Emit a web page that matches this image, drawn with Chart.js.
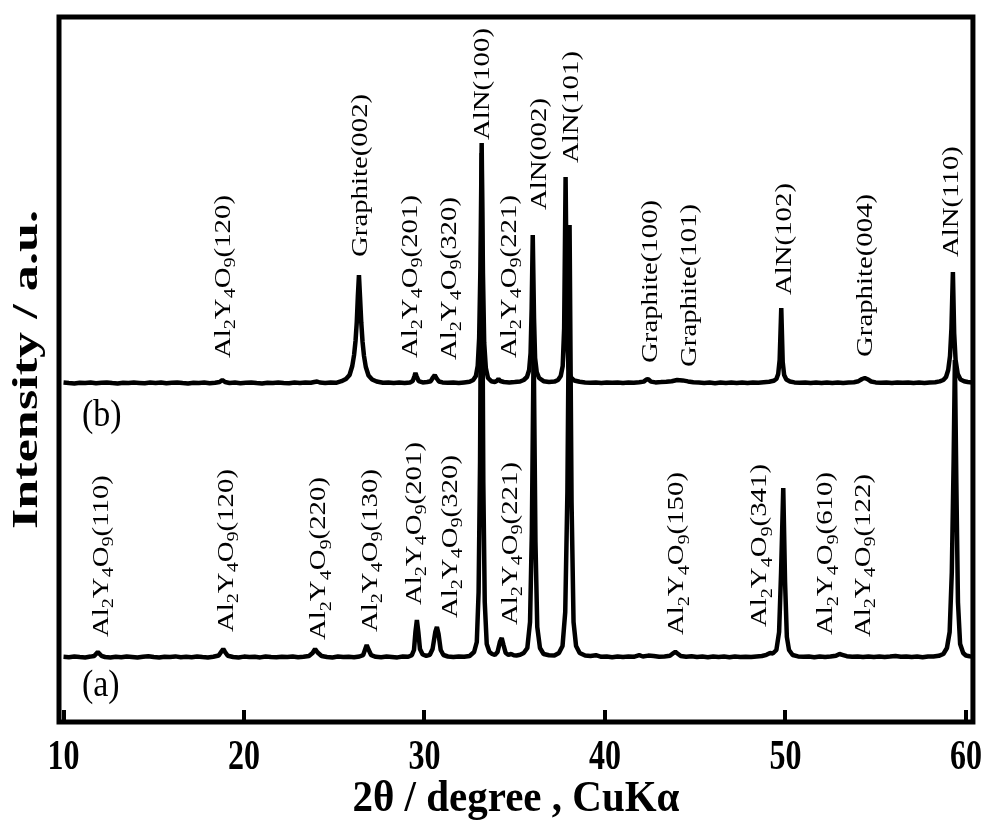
<!DOCTYPE html>
<html>
<head>
<meta charset="utf-8">
<title>XRD patterns</title>
<script src="https://cdn.jsdelivr.net/npm/chart.js@4.4.1/dist/chart.umd.min.js"></script>
<style>
  html, body { margin: 0; padding: 0; background: #ffffff; }
  #wrap { width: 991px; height: 820px; }
</style>
</head>
<body>
<div id="wrap"><canvas id="xrd" width="991" height="820"></canvas></div>
<script>
// ---- measured patterns: [2θ (deg), intensity (counts)] ----
const patternA = [
  [10.0,652],[10.3,648],[10.6,655],[10.9,650],[11.2,646],[11.5,654],[11.7,660],[11.9,700],[12.1,662],[12.3,650],
  [12.6,645],[12.9,653],[13.2,648],[13.5,656],[13.8,650],[14.1,644],[14.4,652],[14.7,657],[15.0,649],[15.3,645],
  [15.6,653],[15.9,650],[16.2,656],[16.5,647],[16.8,652],[17.1,648],[17.4,655],[17.7,650],[18.0,646],[18.3,653],
  [18.6,665],[18.75,705],[18.85,730],[18.95,700],[19.1,662],[19.4,650],[19.7,645],[20.0,654],[20.3,649],[20.6,652],
  [20.9,646],[21.2,655],[21.5,650],[21.8,647],[22.1,653],[22.4,649],[22.7,656],[23.0,648],[23.3,652],[23.6,660],
  [23.8,690],[23.94,730],[24.08,695],[24.3,660],[24.6,650],[24.9,646],[25.2,654],[25.5,649],[25.8,652],[26.1,647],
  [26.4,655],[26.6,668],[26.72,730],[26.8,770],[26.9,725],[27.05,668],[27.3,652],[27.6,648],[27.9,654],[28.2,650],
  [28.5,646],[28.8,655],[29.1,652],[29.3,668],[29.42,720],[29.5,900],[29.58,1020],[29.66,900],[29.75,730],[29.9,675],
  [30.1,662],[30.3,672],[30.45,730],[30.6,900],[30.69,950],[30.78,880],[30.9,720],[31.05,670],[31.3,655],[31.6,650],
  [31.9,656],[32.2,652],[32.5,660],[32.75,700],[32.9,800],[33.0,1300],[33.08,2600],[33.17,5690],[33.26,2400],[33.34,1200],
  [33.45,780],[33.6,700],[33.75,680],[33.9,670],[34.05,700],[34.18,800],[34.28,840],[34.38,770],[34.5,690],[34.65,672],
  [34.8,680],[34.95,668],[35.1,665],[35.3,672],[35.5,690],[35.7,740],[35.85,1000],[35.95,1900],[36.05,3770],[36.15,1800],
  [36.25,950],[36.4,740],[36.6,680],[36.9,668],[37.2,665],[37.45,690],[37.65,760],[37.8,1100],[37.92,2300],[38.04,4970],
  [38.15,2200],[38.26,1000],[38.4,760],[38.6,690],[38.9,665],[39.2,660],[39.5,668],[39.8,652],[40.1,655],[40.4,648],
  [40.7,656],[41.0,650],[41.3,654],[41.6,652],[41.9,668],[42.1,655],[42.4,664],[42.7,660],[43.0,652],[43.3,656],
  [43.6,662],[43.8,690],[43.9,702],[44.0,688],[44.2,660],[44.5,652],[44.8,657],[45.1,650],[45.4,654],[45.7,648],
  [46.0,656],[46.3,651],[46.6,655],[46.9,648],[47.2,656],[47.5,650],[47.8,653],[48.1,649],[48.4,655],[48.7,660],
  [48.95,672],[49.15,690],[49.3,685],[49.5,720],[49.65,900],[49.76,1500],[49.88,2340],[49.98,1400],[50.08,850],[50.2,720],
  [50.4,670],[50.7,656],[51.0,652],[51.3,655],[51.6,648],[51.9,656],[52.2,650],[52.5,654],[52.8,662],[53.0,680],
  [53.15,672],[53.4,658],[53.7,652],[54.0,655],[54.3,649],[54.6,656],[54.9,651],[55.2,655],[55.5,650],[55.8,654],
  [56.1,660],[56.4,652],[56.7,656],[57.0,650],[57.3,654],[57.6,648],[57.9,656],[58.2,655],[58.5,662],[58.75,680],
  [58.95,740],[59.1,900],[59.22,1500],[59.32,2600],[59.39,3620],[59.47,2400],[59.56,1200],[59.68,780],[59.85,690],[60.0,665],
  [60.2,658],[60.35,655]
];

const patternB = [
  [10.0,655],[10.3,650],[10.6,646],[10.9,653],[11.2,649],[11.5,655],[11.8,648],[12.1,652],[12.4,656],[12.7,650],
  [13.0,646],[13.3,653],[13.6,649],[13.9,655],[14.2,651],[14.5,647],[14.8,654],[15.1,650],[15.4,656],[15.7,648],
  [16.0,652],[16.3,655],[16.6,649],[16.9,646],[17.2,653],[17.5,650],[17.8,655],[18.1,648],[18.4,652],[18.65,660],
  [18.8,680],[18.95,660],[19.2,650],[19.5,654],[19.8,647],[20.1,652],[20.4,656],[20.7,650],[21.0,646],[21.3,653],
  [21.6,649],[21.9,655],[22.2,651],[22.5,648],[22.8,654],[23.1,650],[23.4,656],[23.7,652],[23.9,660],[24.05,665],
  [24.2,655],[24.5,650],[24.8,656],[25.1,652],[25.4,668],[25.65,690],[25.85,730],[26.0,820],[26.1,930],[26.18,1070],
  [26.25,1260],[26.31,1520],[26.37,1730],[26.43,1510],[26.5,1250],[26.57,1060],[26.65,920],[26.75,810],[26.9,725],[27.1,685],
  [27.35,665],[27.7,652],[28.0,655],[28.3,649],[28.6,654],[28.9,650],[29.2,656],[29.35,670],[29.45,720],[29.5,750],
  [29.56,720],[29.68,668],[29.9,656],[30.15,660],[30.35,668],[30.47,705],[30.57,730],[30.66,700],[30.8,665],[31.0,656],
  [31.3,652],[31.6,655],[31.9,650],[32.2,656],[32.5,662],[32.7,680],[32.85,720],[32.95,820],[33.03,1100],[33.1,1800],
  [33.17,3050],[33.24,1750],[33.31,1050],[33.4,800],[33.52,700],[33.7,668],[33.9,660],[34.02,672],[34.1,690],[34.2,670],
  [34.4,660],[34.7,656],[35.0,660],[35.3,665],[35.5,680],[35.68,710],[35.8,780],[35.88,950],[35.94,1400],[36.0,2130],
  [36.07,1300],[36.13,900],[36.22,760],[36.35,700],[36.6,668],[36.9,660],[37.2,664],[37.4,680],[37.55,720],[37.66,820],
  [37.74,1200],[37.82,2710],[37.9,1150],[37.98,800],[38.1,710],[38.3,675],[38.6,662],[38.9,656],[39.2,652],[39.5,655],
  [39.8,650],[40.1,656],[40.4,652],[40.7,655],[41.0,649],[41.3,654],[41.6,652],[41.9,657],[42.15,664],[42.3,685],
  [42.4,688],[42.55,664],[42.8,656],[43.1,659],[43.4,663],[43.7,668],[44.0,680],[44.3,676],[44.6,666],[44.9,658],
  [45.2,655],[45.5,650],[45.8,654],[46.1,648],[46.4,655],[46.7,650],[47.0,654],[47.3,649],[47.6,655],[47.9,650],
  [48.2,656],[48.5,652],[48.8,657],[49.1,662],[49.35,672],[49.5,690],[49.6,740],[49.68,880],[49.77,1400],[49.85,860],
  [49.93,730],[50.05,685],[50.25,665],[50.5,656],[50.8,652],[51.1,655],[51.4,649],[51.7,654],[52.0,650],[52.3,656],
  [52.6,651],[52.9,655],[53.2,650],[53.5,654],[53.8,658],[54.05,668],[54.25,690],[54.4,700],[54.55,688],[54.75,665],
  [55.0,656],[55.3,652],[55.6,655],[55.9,650],[56.2,656],[56.5,652],[56.8,655],[57.1,650],[57.4,654],[57.7,649],
  [58.0,655],[58.3,658],[58.55,666],[58.75,680],[58.9,710],[59.02,780],[59.12,920],[59.2,1200],[59.28,1760],[59.35,1150],
  [59.43,880],[59.55,740],[59.7,685],[59.9,668],[60.1,660],[60.35,656]
];

// pattern (b) is stacked above (a) by this many counts
const offsetB = 2740;

// x-axis ticks
const xTicks = [10, 20, 30, 40, 50, 60];

// peak assignments: [text, 2θ where the label sits, intensity where the label starts]
// "_n" marks a subscript digit
const peaksA = [
  ['Al_2Y_4O_9(110)', 12.02, 850],
  ['Al_2Y_4O_9(120)', 18.93, 900],
  ['Al_2Y_4O_9(220)', 24.07, 820],
  ['Al_2Y_4O_9(130)', 26.94, 900],
  ['Al_2Y_4O_9(201)', 29.37, 1170],
  ['Al_2Y_4O_9(320)', 31.36, 1040],
  ['Al_2Y_4O_9(221)', 34.68, 970],
  ['Al_2Y_4O_9(150)', 43.91, 870],
  ['Al_2Y_4O_9(341)', 48.50, 950],
  ['Al_2Y_4O_9(610)', 52.16, 870],
  ['Al_2Y_4O_9(122)', 54.26, 850]
];
const peaksB = [
  ['Al_2Y_4O_9(120)', 18.76, 3640],
  ['Graphite(002)', 26.39, 4650],
  ['Al_2Y_4O_9(201)', 29.15, 3640],
  ['Al_2Y_4O_9(320)', 31.31, 3620],
  ['AlN(100)', 33.13, 5820],
  ['Al_2Y_4O_9(221)', 34.63, 3640],
  ['AlN(002)', 36.28, 5120],
  ['AlN(101)', 38.05, 5590],
  ['Graphite(100)', 42.42, 3590],
  ['Graphite(101)', 44.63, 3550],
  ['AlN(102)', 49.88, 4270],
  ['Graphite(004)', 54.36, 3650],
  ['AlN(110)', 59.12, 4650]
];

// sample tags: [text, 2θ of left edge, intensity of baseline]
const sampleTags = [
  ['(a)', 11.02, 260],
  ['(b)', 11.02, 2960]
];

// ---- styling ----
const SERIF = '"Liberation Serif", "Times New Roman", serif';
const TICK_SIZE = 32, TICK_STRETCH = 1.3;
const XTITLE_SIZE = 41, XTITLE_STRETCH = 1.08, XTITLE_PAD = -4;
const YTITLE_SIZE = 36, YTITLE_STRETCH = 1.45;
const PEAK_SIZE = 24, PEAK_STRETCH = 1.2;
const TAG_SIZE = 34, TAG_STRETCH = 1.1;

const toXY = (arr, off) => arr.map(([x, y]) => ({ x: x, y: y + off }));

// rotated peak label with subscripts, reading bottom-to-top
function drawPeakLabel(ctx, text, px, py) {
  const parts = [];
  const re = /_(\d)|([^_]+)/g;
  let m;
  while ((m = re.exec(text)) !== null) {
    if (m[1] !== undefined) parts.push([m[1], true]);
    else parts.push([m[2], false]);
  }
  ctx.save();
  ctx.translate(px, py);
  ctx.scale(1, PEAK_STRETCH);
  ctx.rotate(-Math.PI / 2);
  ctx.fillStyle = '#000';
  ctx.textAlign = 'left';
  ctx.textBaseline = 'alphabetic';
  const base = PEAK_SIZE * 0.33;
  let cx = 0;
  for (const [t, sub] of parts) {
    const fs = sub ? PEAK_SIZE * 0.7 : PEAK_SIZE;
    ctx.font = `${fs}px ${SERIF}`;
    ctx.fillText(t, cx, sub ? base + PEAK_SIZE * 0.22 : base);
    cx += ctx.measureText(t).width;
  }
  ctx.restore();
}

// stretch library-drawn axis text vertically around a pivot line
function wrapStretch(scale, method, pivotFn, k) {
  const orig = scale[method].bind(scale);
  scale[method] = function (arg) {
    const ctx = this.ctx, y0 = pivotFn(this);
    ctx.save();
    ctx.translate(0, y0);
    ctx.scale(1, k);
    ctx.translate(0, -y0);
    orig(arg);
    ctx.restore();
  };
}

const axisText = {
  id: 'axisText',
  beforeDraw(chart) {
    const sx = chart.scales.x, sy = chart.scales.y;
    if (!sx.$stretched) {
      wrapStretch(sx, 'drawLabels', s => s.top, TICK_STRETCH);
      wrapStretch(sx, 'drawTitle', s => s.bottom - XTITLE_SIZE * 0.6 - XTITLE_PAD, XTITLE_STRETCH);
      sx.$stretched = true;
    }
    if (!sy.$stretched) {
      wrapStretch(sy, 'drawTitle', s => (s.top + s.bottom) / 2, YTITLE_STRETCH);
      sy.$stretched = true;
    }
  }
};

const frameAndLabels = {
  id: 'frameAndLabels',
  afterDatasetsDraw(chart) {
    const { ctx, chartArea: a, scales: { x, y } } = chart;
    ctx.save();
    // plot frame
    ctx.strokeStyle = '#000';
    ctx.lineWidth = 5;
    ctx.strokeRect(a.left, a.top, a.right - a.left, a.bottom - a.top);
    // inward tick marks on the 2θ axis
    ctx.lineWidth = 4;
    ctx.lineCap = 'butt';
    for (const t of x.ticks) {
      const px = Math.round(x.getPixelForValue(t.value));
      ctx.beginPath();
      ctx.moveTo(px, a.bottom);
      ctx.lineTo(px, a.bottom - 12);
      ctx.stroke();
    }
    // peak assignments
    for (const [t, th, v] of peaksA) drawPeakLabel(ctx, t, x.getPixelForValue(th), y.getPixelForValue(v));
    for (const [t, th, v] of peaksB) drawPeakLabel(ctx, t, x.getPixelForValue(th), y.getPixelForValue(v));
    // sample tags
    ctx.fillStyle = '#000';
    ctx.textAlign = 'left';
    ctx.textBaseline = 'alphabetic';
    ctx.font = `${TAG_SIZE}px ${SERIF}`;
    for (const [t, th, v] of sampleTags) {
      const px = x.getPixelForValue(th), py = y.getPixelForValue(v);
      ctx.save();
      ctx.translate(px, py);
      ctx.scale(1, TAG_STRETCH);
      ctx.fillText(t, 0, 0);
      ctx.restore();
    }
    ctx.restore();
  }
};

const lineStyle = {
  borderColor: '#000',
  borderWidth: 4.5,
  pointRadius: 0,
  tension: 0,
  borderJoinStyle: 'bevel',
  fill: false
};

new Chart(document.getElementById('xrd'), {
  type: 'line',
  data: {
    datasets: [
      Object.assign({ label: '(a)', data: toXY(patternA, 0) }, lineStyle),
      Object.assign({ label: '(b)', data: toXY(patternB, offsetB) }, lineStyle)
    ]
  },
  options: {
    responsive: false,
    animation: false,
    devicePixelRatio: 1,
    parsing: false,
    layout: { padding: { top: 17, right: 14, left: 0, bottom: 0 } },
    plugins: { legend: { display: false }, tooltip: { enabled: false } },
    scales: {
      x: {
        type: 'linear',
        min: 9.75,
        max: 60.39,
        afterBuildTicks: s => { s.ticks = xTicks.map(v => ({ value: v })); },
        afterFit: s => { s.height = 98; },
        grid: { display: false, drawTicks: false },
        border: { display: false },
        ticks: {
          color: '#000',
          padding: 9,
          maxRotation: 0,
          autoSkip: false,
          font: { family: SERIF, size: TICK_SIZE, weight: 'bold' }
        },
        title: {
          display: true,
          text: '2θ / degree , CuKα',
          color: '#000',
          padding: { top: 0, bottom: XTITLE_PAD },
          font: { family: SERIF, size: XTITLE_SIZE, weight: 'bold' }
        }
      },
      y: {
        type: 'linear',
        min: 0,
        max: 7050,
        afterFit: s => { s.width = 59; },
        grid: { display: false, drawTicks: false },
        border: { display: false },
        ticks: { display: false },
        title: {
          display: true,
          text: 'Intensity / a.u.',
          color: '#000',
          padding: { top: 6, bottom: 0 },
          font: { family: SERIF, size: YTITLE_SIZE, weight: 'bold' }
        }
      }
    }
  },
  plugins: [axisText, frameAndLabels]
});
</script>
</body>
</html>
